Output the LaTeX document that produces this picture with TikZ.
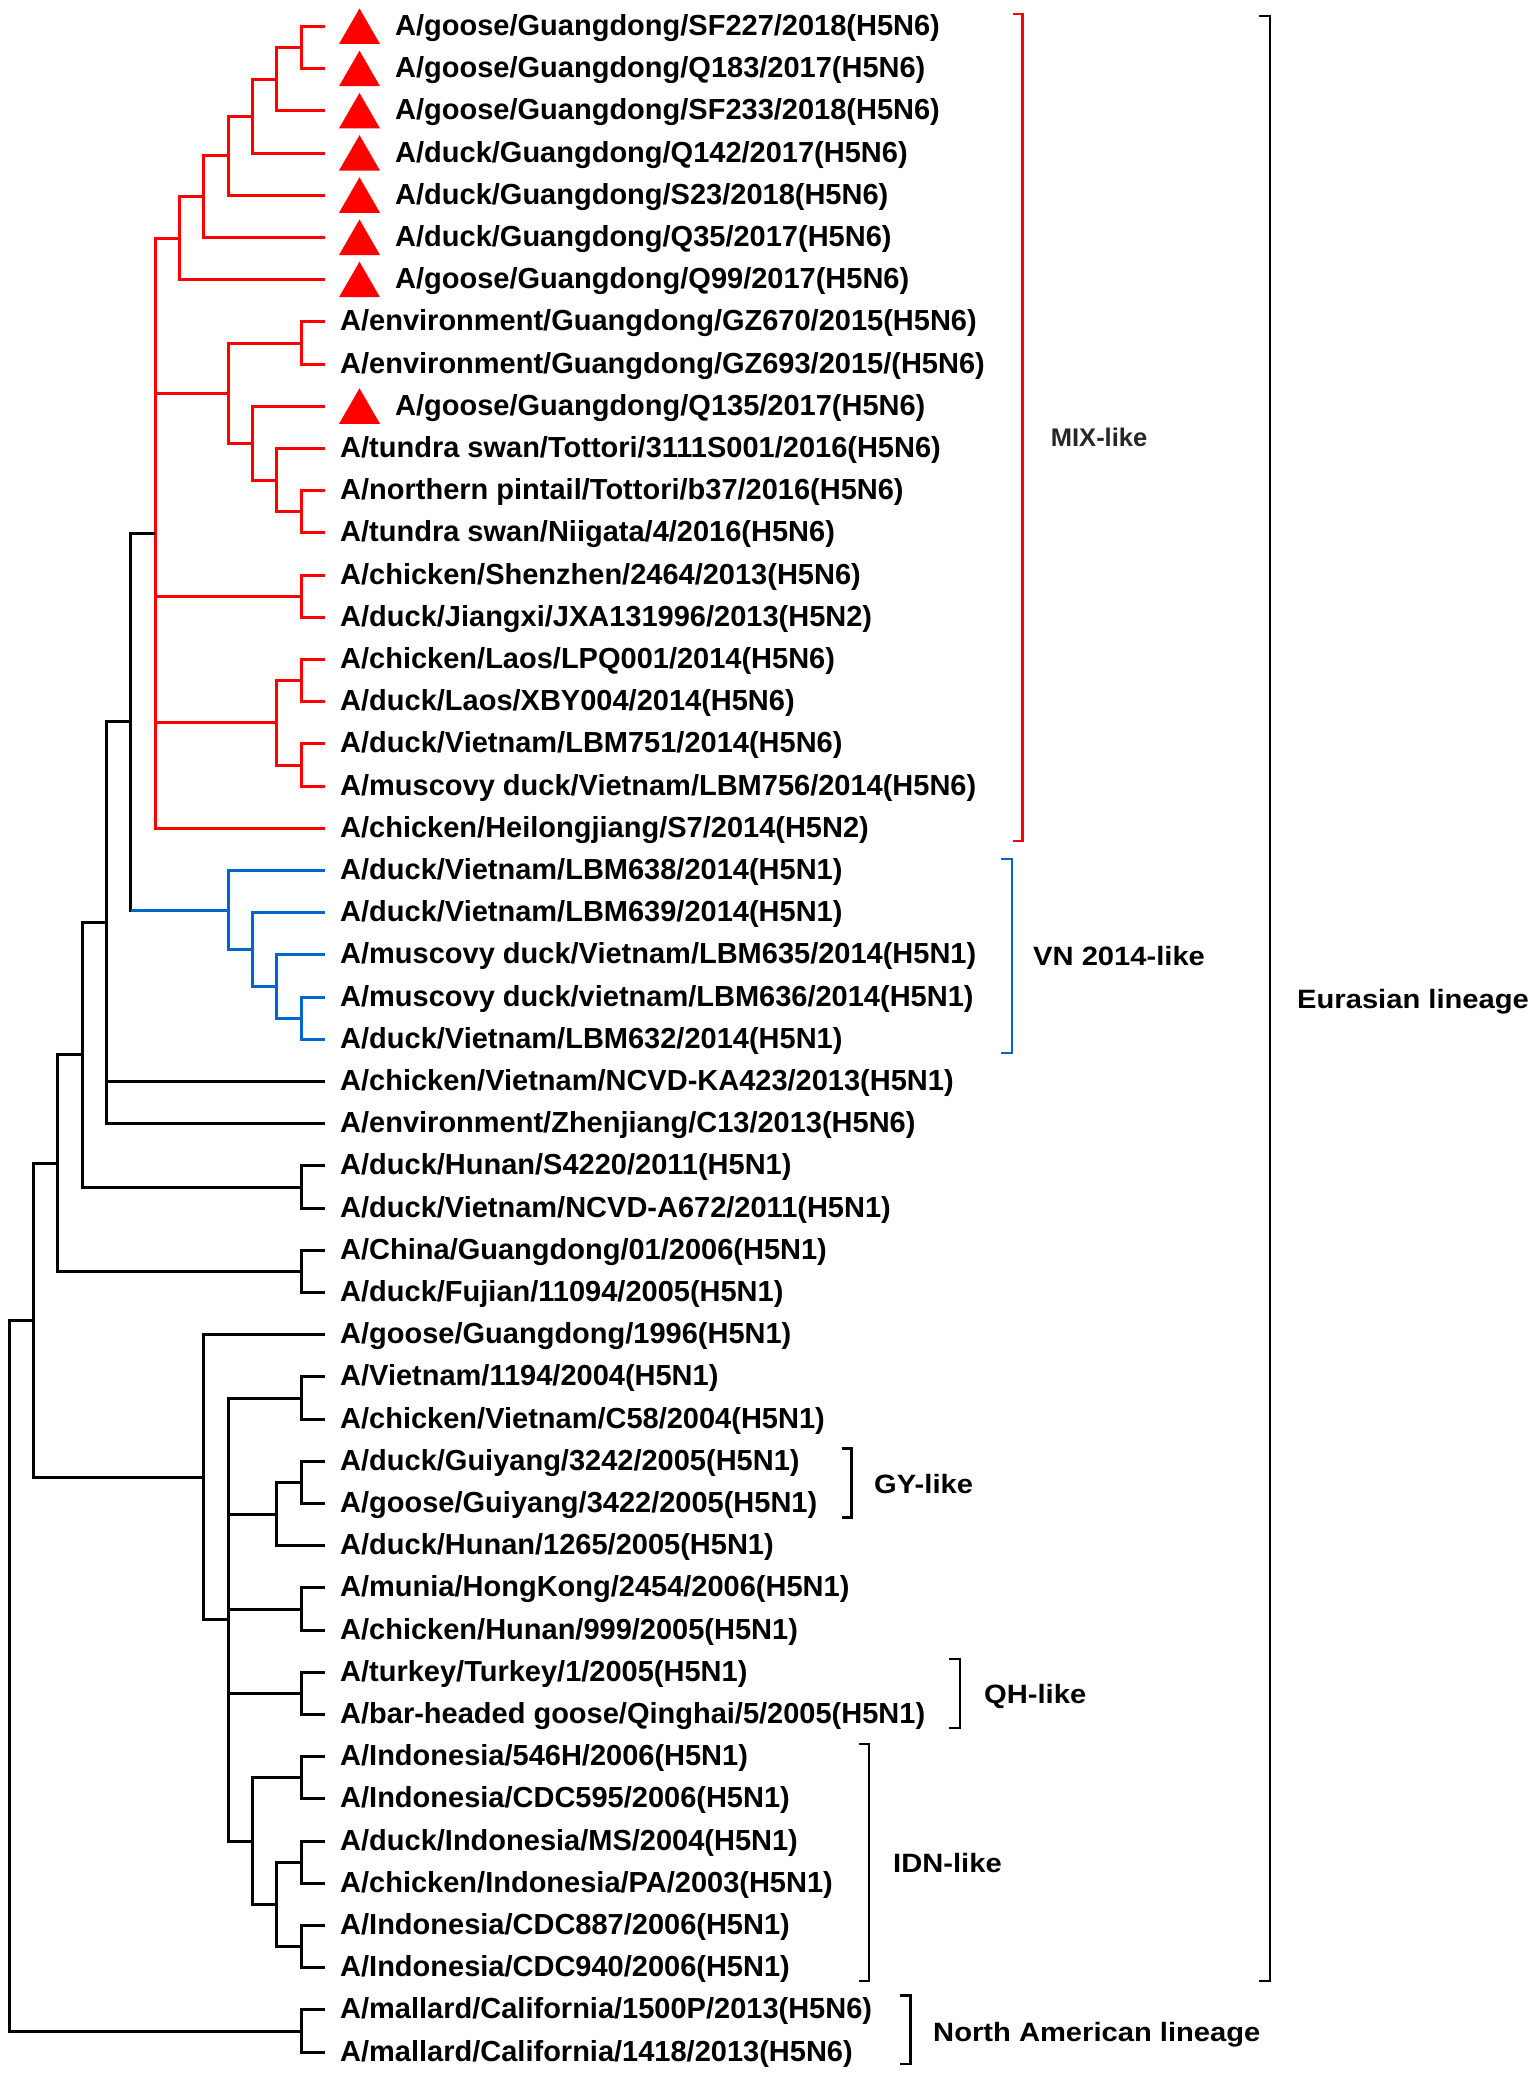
\documentclass[tikz,border=0pt]{standalone}
\usepackage{fontspec}
\setmainfont{Liberation Sans}
\usetikzlibrary{calc}
\definecolor{mixred}{RGB}{255,0,0}
\definecolor{vnblue}{RGB}{0,102,204}
\newcommand\innode[4]{%
  \coordinate (tmpm) at ($(#3)!0.5!(#4)$);%
  \coordinate (tmpx) at (#2,0);%
  \coordinate (#1) at (tmpx |- tmpm);}
\newcommand\br[3][]{\draw[branch,#1] (#2) |- (#3);}
\newcommand\tri[1]{\fill[mixred] ($(#1)+(13.7,17.5)$) -- ++(41,0) -- ++(-20.5,-35.5) -- cycle;}
\newcommand\wide[1]{\scalebox{1.1}[1]{#1}}
\begin{document}
\begin{tikzpicture}[x=1pt,y=-1pt,
  branch/.style={line width=3pt},
  brk/.style={line width=2.6pt},
  leaf/.style={anchor=base west, inner sep=0pt, font=\fontsize{29}{35}\selectfont\bfseries},
  clab/.style={anchor=base west, inner sep=0pt, font=\fontsize{26.5}{31}\selectfont\bfseries},
  clabm/.style={anchor=base west, inner sep=0pt, text=black!85, font=\fontsize{25.5}{30}\selectfont\bfseries}]
\fill[white] (0,0) rectangle (1535,2074);
\useasboundingbox (0,0) rectangle (1535,2074);
\foreach \i in {1,...,49} { \coordinate (l\i) at (325.3,{26.5+42.2*(\i-1)}); }
% internal nodes
\innode{a12}{301}{l1}{l2}
\innode{a11}{276.7}{a12}{l3}
\innode{a10}{252.3}{a11}{l4}
\innode{a9}{228}{a10}{l5}
\innode{a8}{203.7}{a9}{l6}
\innode{a7}{179.3}{a8}{l7}
\innode{b12}{301}{l8}{l9}
\innode{c12}{301}{l12}{l13}
\innode{c11}{276.7}{l11}{c12}
\innode{c10}{252.3}{l10}{c11}
\innode{b9}{228}{b12}{c10}
\innode{d12}{301}{l14}{l15}
\innode{e12}{301}{l16}{l17}
\innode{f12}{301}{l18}{l19}
\innode{e11}{276.7}{e12}{f12}
\innode{mix}{155}{a7}{l20}
\innode{v12}{301}{l24}{l25}
\innode{v11}{276.7}{l23}{v12}
\innode{v10}{252.3}{l22}{v11}
\innode{v9}{228}{l21}{v10}
\innode{n5}{130.7}{mix}{v9}
\innode{n4}{106.3}{n5}{l27}
\innode{g12}{301}{l28}{l29}
\innode{n3}{82}{n4}{g12}
\innode{h12}{301}{l30}{l31}
\innode{n2}{57.7}{n3}{h12}
\innode{p12}{301}{l33}{l34}
\innode{q12}{301}{l35}{l36}
\innode{q11}{276.7}{q12}{l37}
\innode{r12}{301}{l38}{l39}
\innode{s12}{301}{l40}{l41}
\innode{t12}{301}{l42}{l43}
\innode{u12}{301}{l44}{l45}
\innode{w12}{301}{l46}{l47}
\innode{u11}{276.7}{u12}{w12}
\innode{u10}{252.3}{t12}{u11}
\innode{p9}{228}{p12}{u10}
\innode{p8}{203.7}{l32}{p9}
\innode{n1}{33.3}{n2}{p8}
\innode{o12}{301}{l48}{l49}
\innode{root}{9}{n1}{o12}
% red branches
\br[mixred]{a12}{l1} \br[mixred]{a12}{l2}
\br[mixred]{a11}{a12} \br[mixred]{a11}{l3}
\br[mixred]{a10}{a11} \br[mixred]{a10}{l4}
\br[mixred]{a9}{a10} \br[mixred]{a9}{l5}
\br[mixred]{a8}{a9} \br[mixred]{a8}{l6}
\br[mixred]{a7}{a8} \br[mixred]{a7}{l7}
\br[mixred]{b12}{l8} \br[mixred]{b12}{l9}
\br[mixred]{c12}{l12} \br[mixred]{c12}{l13}
\br[mixred]{c11}{l11} \br[mixred]{c11}{c12}
\br[mixred]{c10}{l10} \br[mixred]{c10}{c11}
\br[mixred]{b9}{b12} \br[mixred]{b9}{c10}
\br[mixred]{d12}{l14} \br[mixred]{d12}{l15}
\br[mixred]{e12}{l16} \br[mixred]{e12}{l17}
\br[mixred]{f12}{l18} \br[mixred]{f12}{l19}
\br[mixred]{e11}{e12} \br[mixred]{e11}{f12}
\br[mixred]{mix}{a7} \br[mixred]{mix}{b9} \br[mixred]{mix}{d12} \br[mixred]{mix}{e11} \br[mixred]{mix}{l20}
% blue branches
\br[vnblue]{v12}{l24} \br[vnblue]{v12}{l25}
\br[vnblue]{v11}{l23} \br[vnblue]{v11}{v12}
\br[vnblue]{v10}{l22} \br[vnblue]{v10}{v11}
\br[vnblue]{v9}{l21} \br[vnblue]{v9}{v10}
% black branches
\br{n5}{mix}
\draw[branch,line cap=rect] (n5) -- (n5 |- v9);
\draw[branch,vnblue] (n5 |- v9) -- (v9);
\br{n4}{n5} \br{n4}{l26} \br{n4}{l27}
\br{g12}{l28} \br{g12}{l29}
\br{n3}{n4} \br{n3}{g12}
\br{h12}{l30} \br{h12}{l31}
\br{n2}{n3} \br{n2}{h12}
\br{p12}{l33} \br{p12}{l34}
\br{q12}{l35} \br{q12}{l36}
\br{q11}{q12} \br{q11}{l37}
\br{r12}{l38} \br{r12}{l39}
\br{s12}{l40} \br{s12}{l41}
\br{t12}{l42} \br{t12}{l43}
\br{u12}{l44} \br{u12}{l45}
\br{w12}{l46} \br{w12}{l47}
\br{u11}{u12} \br{u11}{w12}
\br{u10}{t12} \br{u10}{u11}
\br{p9}{p12} \br{p9}{q11} \br{p9}{r12} \br{p9}{s12} \br{p9}{u10}
\br{p8}{l32} \br{p8}{p9}
\br{n1}{n2} \br{n1}{p8}
\br{o12}{l48} \br{o12}{l49}
\br{root}{n1} \br{root}{o12}
% triangles
\tri{l1} \tri{l2} \tri{l3} \tri{l4} \tri{l5} \tri{l6} \tri{l7} \tri{l10}
% leaf labels
\node[leaf] (lab1) at ($(l1)+(69.7,9)$) {A/goose/Guangdong/SF227/2018(H5N6)};
\node[leaf] (lab2) at ($(l2)+(69.7,9)$) {A/goose/Guangdong/Q183/2017(H5N6)};
\node[leaf] (lab3) at ($(l3)+(69.7,9)$) {A/goose/Guangdong/SF233/2018(H5N6)};
\node[leaf] (lab4) at ($(l4)+(69.7,9)$) {A/duck/Guangdong/Q142/2017(H5N6)};
\node[leaf] (lab5) at ($(l5)+(69.7,9)$) {A/duck/Guangdong/S23/2018(H5N6)};
\node[leaf] (lab6) at ($(l6)+(69.7,9)$) {A/duck/Guangdong/Q35/2017(H5N6)};
\node[leaf] (lab7) at ($(l7)+(69.7,9)$) {A/goose/Guangdong/Q99/2017(H5N6)};
\node[leaf] (lab8) at ($(l8)+(14.7,9)$) {A/environment/Guangdong/GZ670/2015(H5N6)};
\node[leaf] (lab9) at ($(l9)+(14.7,9)$) {A/environment/Guangdong/GZ693/2015/(H5N6)};
\node[leaf] (lab10) at ($(l10)+(69.7,9)$) {A/goose/Guangdong/Q135/2017(H5N6)};
\node[leaf] (lab11) at ($(l11)+(14.7,9)$) {A/tundra swan/Tottori/3111S001/2016(H5N6)};
\node[leaf] (lab12) at ($(l12)+(14.7,9)$) {A/northern pintail/Tottori/b37/2016(H5N6)};
\node[leaf] (lab13) at ($(l13)+(14.7,9)$) {A/tundra swan/Niigata/4/2016(H5N6)};
\node[leaf] (lab14) at ($(l14)+(14.7,9)$) {A/chicken/Shenzhen/2464/2013(H5N6)};
\node[leaf] (lab15) at ($(l15)+(14.7,9)$) {A/duck/Jiangxi/JXA131996/2013(H5N2)};
\node[leaf] (lab16) at ($(l16)+(14.7,9)$) {A/chicken/Laos/LPQ001/2014(H5N6)};
\node[leaf] (lab17) at ($(l17)+(14.7,9)$) {A/duck/Laos/XBY004/2014(H5N6)};
\node[leaf] (lab18) at ($(l18)+(14.7,9)$) {A/duck/Vietnam/LBM751/2014(H5N6)};
\node[leaf] (lab19) at ($(l19)+(14.7,9)$) {A/muscovy duck/Vietnam/LBM756/2014(H5N6)};
\node[leaf] (lab20) at ($(l20)+(14.7,9)$) {A/chicken/Heilongjiang/S7/2014(H5N2)};
\node[leaf] (lab21) at ($(l21)+(14.7,9)$) {A/duck/Vietnam/LBM638/2014(H5N1)};
\node[leaf] (lab22) at ($(l22)+(14.7,9)$) {A/duck/Vietnam/LBM639/2014(H5N1)};
\node[leaf] (lab23) at ($(l23)+(14.7,9)$) {A/muscovy duck/Vietnam/LBM635/2014(H5N1)};
\node[leaf] (lab24) at ($(l24)+(14.7,9)$) {A/muscovy duck/vietnam/LBM636/2014(H5N1)};
\node[leaf] (lab25) at ($(l25)+(14.7,9)$) {A/duck/Vietnam/LBM632/2014(H5N1)};
\node[leaf] (lab26) at ($(l26)+(14.7,9)$) {A/chicken/Vietnam/NCVD-KA423/2013(H5N1)};
\node[leaf] (lab27) at ($(l27)+(14.7,9)$) {A/environment/Zhenjiang/C13/2013(H5N6)};
\node[leaf] (lab28) at ($(l28)+(14.7,9)$) {A/duck/Hunan/S4220/2011(H5N1)};
\node[leaf] (lab29) at ($(l29)+(14.7,9)$) {A/duck/Vietnam/NCVD-A672/2011(H5N1)};
\node[leaf] (lab30) at ($(l30)+(14.7,9)$) {A/China/Guangdong/01/2006(H5N1)};
\node[leaf] (lab31) at ($(l31)+(14.7,9)$) {A/duck/Fujian/11094/2005(H5N1)};
\node[leaf] (lab32) at ($(l32)+(14.7,9)$) {A/goose/Guangdong/1996(H5N1)};
\node[leaf] (lab33) at ($(l33)+(14.7,9)$) {A/Vietnam/1194/2004(H5N1)};
\node[leaf] (lab34) at ($(l34)+(14.7,9)$) {A/chicken/Vietnam/C58/2004(H5N1)};
\node[leaf] (lab35) at ($(l35)+(14.7,9)$) {A/duck/Guiyang/3242/2005(H5N1)};
\node[leaf] (lab36) at ($(l36)+(14.7,9)$) {A/goose/Guiyang/3422/2005(H5N1)};
\node[leaf] (lab37) at ($(l37)+(14.7,9)$) {A/duck/Hunan/1265/2005(H5N1)};
\node[leaf] (lab38) at ($(l38)+(14.7,9)$) {A/munia/HongKong/2454/2006(H5N1)};
\node[leaf] (lab39) at ($(l39)+(14.7,9)$) {A/chicken/Hunan/999/2005(H5N1)};
\node[leaf] (lab40) at ($(l40)+(14.7,9)$) {A/turkey/Turkey/1/2005(H5N1)};
\node[leaf] (lab41) at ($(l41)+(14.7,9)$) {A/bar-headed goose/Qinghai/5/2005(H5N1)};
\node[leaf] (lab42) at ($(l42)+(14.7,9)$) {A/Indonesia/546H/2006(H5N1)};
\node[leaf] (lab43) at ($(l43)+(14.7,9)$) {A/Indonesia/CDC595/2006(H5N1)};
\node[leaf] (lab44) at ($(l44)+(14.7,9)$) {A/duck/Indonesia/MS/2004(H5N1)};
\node[leaf] (lab45) at ($(l45)+(14.7,9)$) {A/chicken/Indonesia/PA/2003(H5N1)};
\node[leaf] (lab46) at ($(l46)+(14.7,9)$) {A/Indonesia/CDC887/2006(H5N1)};
\node[leaf] (lab47) at ($(l47)+(14.7,9)$) {A/Indonesia/CDC940/2006(H5N1)};
\node[leaf] (lab48) at ($(l48)+(14.7,9)$) {A/mallard/California/1500P/2013(H5N6)};
\node[leaf] (lab49) at ($(l49)+(14.7,9)$) {A/mallard/California/1418/2013(H5N6)};
% brackets
\draw[brk,mixred] (1012.7,14) -- (1022.7,14) -- (1022.7,841) -- (1012.7,841);
\draw[brk,vnblue] (1001,859) -- (1012,859) -- (1012,1053) -- (1001,1053);
\draw[brk] (1259,16) -- (1270,16) -- (1270,1981) -- (1259,1981);
\draw[brk] (841.7,1448.3) -- (851.7,1448.3) -- (851.7,1517.3) -- (841.7,1517.3);
\draw[brk] (949,1659) -- (960,1659) -- (960,1728) -- (949,1728);
\draw[brk] (859,1744) -- (869,1744) -- (869,1981) -- (859,1981);
\draw[brk] (900,1995.7) -- (910.7,1995.7) -- (910.7,2064) -- (900,2064);
% clade labels
\node[clabm] (mixlab) at (1050.7,446.7) {MIX-like};
\node[clab] (vnlab) at (1033,965.5) {\wide{VN 2014-like}};
\node[clab] (eulab) at (1297,1008.5) {\wide{Eurasian lineage}};
\node[clab] (gylab) at (874,1493.5) {\wide{GY-like}};
\node[clab] (qhlab) at (984,1703.5) {\wide{QH-like}};
\node[clab] (idnlab) at (893,1872) {\wide{IDN-like}};
\node[clab] (nalab) at (933,2041.5) {\wide{North American lineage}};
\end{tikzpicture}
\end{document}
